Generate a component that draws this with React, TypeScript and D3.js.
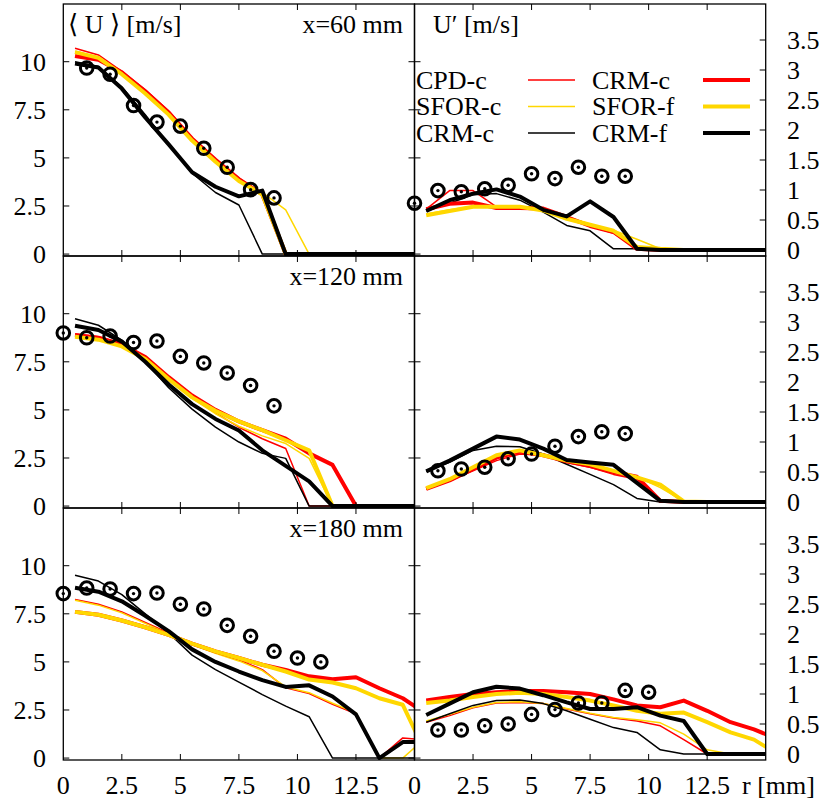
import React from "react";
import * as d3 from "d3";

// radial stations of the simulation profiles [mm]
const R = [0.5, 1.5, 2.5, 3.5, 4.5, 5.5, 6.5, 7.5, 8.5, 9.5, 10.5, 11.5, 12.5, 13.5, 14.5, 15.5];

const seriesNames = ["CPD-c", "SFOR-c", "CRM-c", "CRM-c", "SFOR-f", "CRM-f"];
const seriesColor = ["#ff0000", "#ffd700", "#000000", "#ff0000", "#ffd700", "#000000"];
const seriesWidth = [1.5, 1.5, 1.5, 4, 4, 4];

const rowTitles = ["x=60 mm", "x=120 mm", "x=180 mm"];
const xTicks = [0, 2.5, 5, 7.5, 10, 12.5];
const xTickLabels = ["0", "2.5", "5", "7.5", "10", "12.5"];
const meanTicks = [0, 2.5, 5, 7.5, 10];
const meanTickLabels = ["0", "2.5", "5", "7.5", "10"];
const rmsTicks = [0, 0.5, 1, 1.5, 2, 2.5, 3, 3.5];
const rmsTickLabels = ["0", "0.5", "1", "1.5", "2", "2.5", "3", "3.5"];

// ---- mean velocity <U>, x = 60 mm
const meanX60_CPDc = [10.7, 10.35, 9.5, 8.55, 7.45, 6.05, 4.95, 3.95, 3.15, 0, 0, 0, 0, 0, 0, 0];
const meanX60_SFORc = [10.55, 10.25, 9.4, 8.4, 7.3, 5.95, 4.85, 3.85, 3.2, 2.3, 0, 0, 0, 0, 0, 0];
const meanX60_CRMc = [10.0, 9.75, 8.7, 7.25, 5.7, 4.2, 3.2, 2.55, 0, 0, 0, 0, 0, 0, 0, 0];
const meanX60_CRMcThick = [10.3, 10.1, 9.45, 8.45, 7.35, 6.0, 4.9, 3.9, 3.1, 0, 0, 0, 0, 0, 0, 0];
const meanX60_SFORf = [10.5, 10.2, 9.35, 8.35, 7.25, 5.9, 4.8, 3.8, 3.1, 0, 0, 0, 0, 0, 0, 0];
const meanX60_CRMf = [9.9, 9.7, 8.6, 7.1, 5.7, 4.25, 3.5, 3.0, 3.3, 0, 0, 0, 0, 0, 0, 0];

// ---- mean velocity <U>, x = 120 mm
const meanX120_CPDc = [8.95, 8.8, 8.45, 7.75, 6.7, 5.7, 4.85, 4.1, 3.5, 2.99, 0, 0, 0, 0, 0, 0];
const meanX120_SFORc = [8.9, 8.75, 8.35, 7.7, 6.6, 5.6, 4.8, 4.15, 3.65, 3.25, 2.48, 0, 0, 0, 0, 0];
const meanX120_CRMc = [9.74, 9.4, 8.63, 7.5, 6.15, 5.04, 4.1, 3.33, 2.74, 2.48, 0, 0, 0, 0, 0, 0];
const meanX120_CRMcThick = [8.9, 8.75, 8.4, 7.75, 6.7, 5.75, 5.0, 4.4, 3.95, 3.5, 2.74, 2.14, 0, 0, 0, 0];
const meanX120_SFORf = [8.8, 8.65, 8.3, 7.65, 6.6, 5.65, 4.95, 4.4, 3.95, 3.42, 2.9, 0, 0, 0, 0, 0];
const meanX120_CRMf = [9.37, 9.15, 8.55, 7.5, 6.32, 5.3, 4.53, 3.93, 2.9, 2.09, 1.28, 0, 0, 0, 0, 0];

// ---- mean velocity <U>, x = 180 mm
const meanX180_CPDc = [8.25, 8.0, 7.6, 7.05, 6.5, 5.9, 5.5, 5.1, 4.6, 3.65, 3.35, 2.8, 2.3, 0, 1.05, 0.95];
const meanX180_SFORc = [8.2, 7.95, 7.55, 7.0, 6.45, 5.9, 5.45, 5.05, 4.55, 3.7, 3.4, 2.85, 2.35, 0, 0, 1.08];
const meanX180_CRMc = [9.5, 9.2, 8.5, 7.5, 6.5, 5.35, 4.6, 3.95, 3.3, 2.7, 2.15, 0, 0, 0, 0, 0];
const meanX180_CRMcThick = [7.6, 7.45, 7.15, 6.8, 6.4, 5.95, 5.55, 5.2, 4.85, 4.58, 4.25, 4.1, 4.2, 3.63, 3.11, 2.3];
const meanX180_SFORf = [7.6, 7.45, 7.15, 6.8, 6.4, 5.95, 5.55, 5.2, 4.85, 4.5, 4.08, 3.93, 3.63, 3.11, 2.77, 0.2];
const meanX180_CRMf = [8.85, 8.65, 8.15, 7.4, 6.6, 5.65, 5.0, 4.5, 4.05, 3.7, 3.78, 3.2, 2.27, 0, 0.83, 0.83];

// ---- rms velocity U', x = 60 mm
const rmsX60_CPDc = [0.68, 0.99, 0.99, 0.72, 0.7, 0.7, 0.55, 0.4, 0.28, 0.02, 0, 0, 0, 0, 0, 0];
const rmsX60_SFORc = [0.6, 0.67, 0.73, 0.73, 0.72, 0.68, 0.56, 0.43, 0.33, 0.18, 0.02, 0, 0, 0, 0, 0];
const rmsX60_CRMc = [0.65, 0.78, 0.92, 0.94, 0.83, 0.63, 0.41, 0.32, 0.02, 0.02, 0, 0, 0, 0, 0, 0];
const rmsX60_CRMcThick = [0.68, 0.77, 0.79, 0.7, 0.7, 0.69, 0.55, 0.4, 0.3, 0.02, 0, 0, 0, 0, 0, 0];
const rmsX60_SFORf = [0.58, 0.65, 0.72, 0.72, 0.72, 0.66, 0.52, 0.42, 0.32, 0.05, 0.02, 0, 0, 0, 0, 0];
const rmsX60_CRMf = [0.65, 0.83, 0.94, 1.01, 0.89, 0.67, 0.56, 0.81, 0.55, 0.02, 0, 0, 0, 0, 0, 0];

// ---- rms velocity U', x = 120 mm
const rmsX120_CPDc = [0.21, 0.35, 0.52, 0.69, 0.8, 0.78, 0.66, 0.58, 0.46, 0.38, 0.01, 0, 0, 0, 0, 0];
const rmsX120_SFORc = [0.23, 0.38, 0.57, 0.76, 0.84, 0.78, 0.68, 0.62, 0.52, 0.42, 0.24, 0.01, 0, 0, 0, 0];
const rmsX120_CRMc = [0.51, 0.66, 0.86, 0.93, 0.92, 0.8, 0.63, 0.46, 0.29, 0.06, 0, 0, 0, 0, 0, 0];
const rmsX120_CRMcThick = [0.22, 0.36, 0.55, 0.74, 0.84, 0.78, 0.68, 0.6, 0.5, 0.42, 0.02, 0, 0, 0, 0, 0];
const rmsX120_SFORf = [0.23, 0.38, 0.58, 0.78, 0.86, 0.78, 0.69, 0.63, 0.52, 0.41, 0.29, 0.01, 0, 0, 0, 0];
const rmsX120_CRMf = [0.51, 0.69, 0.89, 1.09, 1.04, 0.89, 0.7, 0.66, 0.62, 0.32, 0.02, 0, 0, 0, 0, 0];

// ---- rms velocity U', x = 180 mm
const rmsX180_CPDc = [0.53, 0.64, 0.77, 0.85, 0.86, 0.84, 0.75, 0.67, 0.6, 0.55, 0.47, 0.24, 0, 0, 0, 0];
const rmsX180_SFORc = [0.55, 0.66, 0.78, 0.86, 0.87, 0.84, 0.76, 0.68, 0.61, 0.57, 0.52, 0.33, 0.07, 0, 0, 0];
const rmsX180_CRMc = [0.53, 0.67, 0.81, 0.89, 0.9, 0.84, 0.72, 0.58, 0.44, 0.36, 0.07, 0, 0, 0, 0, 0];
const rmsX180_CRMcThick = [0.89, 0.95, 1.0, 1.03, 1.05, 1.05, 1.03, 1.0, 0.91, 0.81, 0.78, 0.89, 0.72, 0.53, 0.41, 0.25];
const rmsX180_SFORf = [0.85, 0.89, 0.95, 1.0, 1.02, 1.0, 0.95, 0.89, 0.81, 0.72, 0.67, 0.69, 0.53, 0.36, 0.24, 0.0];
const rmsX180_CRMf = [0.65, 0.84, 1.03, 1.12, 1.09, 0.98, 0.86, 0.75, 0.75, 0.78, 0.64, 0.55, 0, 0, 0, 0];

// ---- experiments (circles)
const exptMeanX60_r = [1, 2, 3, 4, 5, 6, 7, 8, 9];
const exptMeanX60_u = [9.67, 9.35, 7.72, 6.86, 6.65, 5.5, 4.51, 3.35, 2.92];
const exptRmsX60_r = [0, 1, 2, 3, 4, 5, 6, 7, 8, 9];
const exptRmsX60_u = [0.78, 0.99, 0.97, 1.02, 1.08, 1.27, 1.19, 1.38, 1.23, 1.23];
const exptMeanX120_r = [0, 1, 2, 3, 4, 5, 6, 7, 8, 9];
const exptMeanX120_u = [9.0, 8.75, 8.84, 8.5, 8.58, 7.78, 7.44, 6.92, 6.27, 5.21];
const exptRmsX120_r = [1, 2, 3, 4, 5, 6, 7, 8, 9];
const exptRmsX120_u = [0.52, 0.55, 0.58, 0.72, 0.8, 0.93, 1.09, 1.17, 1.14];
const exptMeanX180_r = [0, 1, 2, 3, 4, 5, 6, 7, 8, 9, 10, 11];
const exptMeanX180_u = [8.55, 8.84, 8.79, 8.55, 8.58, 8.0, 7.75, 6.9, 6.33, 5.55, 5.2, 5.0];
const exptRmsX180_r = [1, 2, 3, 4, 5, 6, 7, 8, 9, 10];
const exptRmsX180_u = [0.4, 0.4, 0.47, 0.5, 0.66, 0.74, 0.85, 0.85, 1.06, 1.03];

const meanRows = [
  [meanX60_CPDc, meanX60_SFORc, meanX60_CRMc, meanX60_CRMcThick, meanX60_SFORf, meanX60_CRMf],
  [meanX120_CPDc, meanX120_SFORc, meanX120_CRMc, meanX120_CRMcThick, meanX120_SFORf, meanX120_CRMf],
  [meanX180_CPDc, meanX180_SFORc, meanX180_CRMc, meanX180_CRMcThick, meanX180_SFORf, meanX180_CRMf],
];
const rmsRows = [
  [rmsX60_CPDc, rmsX60_SFORc, rmsX60_CRMc, rmsX60_CRMcThick, rmsX60_SFORf, rmsX60_CRMf],
  [rmsX120_CPDc, rmsX120_SFORc, rmsX120_CRMc, rmsX120_CRMcThick, rmsX120_SFORf, rmsX120_CRMf],
  [rmsX180_CPDc, rmsX180_SFORc, rmsX180_CRMc, rmsX180_CRMcThick, rmsX180_SFORf, rmsX180_CRMf],
];
const exptMeanRows = [
  [exptMeanX60_r, exptMeanX60_u],
  [exptMeanX120_r, exptMeanX120_u],
  [exptMeanX180_r, exptMeanX180_u],
];
const exptRmsRows = [
  [exptRmsX60_r, exptRmsX60_u],
  [exptRmsX120_r, exptRmsX120_u],
  [exptRmsX180_r, exptRmsX180_u],
];

// ---- layout
const W = 826;
const H = 803;
const XL0 = 63.3;
const XM = 414.5;
const XR1 = 765.7;
const ROW_TOP = [4, 256, 508];
const ROW_H = 252;
const FONT = "'Liberation Serif', 'Times New Roman', 'DejaVu Serif', serif";
const FS = 26;
const TICK = 6;

function Panel({ row, side }: { row: number; side: "L" | "R" }) {
  const top = ROW_TOP[row];
  const bottom = top + ROW_H;
  const x0 = side === "L" ? XL0 : XM;
  const x1 = side === "L" ? XM : XR1;
  const x = d3.scaleLinear().domain([0, 15]).range([x0, x1]);
  const yMean = d3.scaleLinear().domain([-0.1, 13]).range([bottom, top]);
  const yRms = d3.scaleLinear().domain([-0.1, 4.1]).range([bottom, top]);
  const y = side === "L" ? yMean : yRms;
  const series = side === "L" ? meanRows[row] : rmsRows[row];
  const expt = side === "L" ? exptMeanRows[row] : exptRmsRows[row];
  const line = d3
    .line<number>()
    .x((_, i) => x(R[i]))
    .y((v) => y(v));
  const clipId = `clip-${side}-${row}`;
  const xt = xTicks.filter((t) => t > 0);
  return (
    <g>
      <defs>
        <clipPath id={clipId}>
          <rect x={x0} y={top} width={x1 - x0} height={ROW_H} />
        </clipPath>
      </defs>
      <g clipPath={`url(#${clipId})`}>
        {series.map((vals, si) => (
          <path
            key={si}
            d={line(vals) || ""}
            fill="none"
            stroke={seriesColor[si]}
            strokeWidth={seriesWidth[si]}
            strokeLinejoin="round"
          />
        ))}
      </g>
      {expt[0].map((r, i) => (
        <g key={i}>
          <circle cx={x(r)} cy={y(expt[1][i])} r={6.3} fill="none" stroke="#000" strokeWidth={3} />
          <circle cx={x(r)} cy={y(expt[1][i])} r={1.7} fill="#000" />
        </g>
      ))}
      <rect x={x0} y={top} width={x1 - x0} height={ROW_H} fill="none" stroke="#000" strokeWidth={1.3} />
      {/* x ticks top & bottom */}
      {xt.map((t) => (
        <g key={t}>
          <line x1={x(t)} x2={x(t)} y1={bottom} y2={bottom - TICK} stroke="#000" strokeWidth={1} />
          <line x1={x(t)} x2={x(t)} y1={top} y2={top + TICK} stroke="#000" strokeWidth={1} />
        </g>
      ))}
      {/* mean-scale ticks on left edge (and right edge of left panel) */}
      {meanTicks.map((t) => (
        <g key={"m" + t}>
          <line x1={x0} x2={x0 + TICK} y1={yMean(t)} y2={yMean(t)} stroke="#000" strokeWidth={1} />
          {side === "L" && (
            <line x1={x1} x2={x1 - TICK} y1={yMean(t)} y2={yMean(t)} stroke="#000" strokeWidth={1} />
          )}
        </g>
      ))}
      {side === "R" &&
        rmsTicks.map((t) => (
          <line key={"r" + t} x1={x1} x2={x1 - TICK} y1={yRms(t)} y2={yRms(t)} stroke="#000" strokeWidth={1} />
        ))}
      {/* tick labels */}
      {side === "L" &&
        meanTicks.map((t, i) => (
          <text key={"ml" + t} x={46} y={yMean(t) + 8.8} textAnchor="end" fontSize={FS} fontFamily={FONT}>
            {meanTickLabels[i]}
          </text>
        ))}
      {side === "R" &&
        rmsTicks.map((t, i) => (
          <text key={"rl" + t} x={787} y={yRms(t) + 8.8} textAnchor="start" fontSize={FS} fontFamily={FONT}>
            {rmsTickLabels[i]}
          </text>
        ))}
      {row === 2 &&
        xTicks.map((t, i) => (
          <text key={"xl" + t} x={x(t)} y={794} textAnchor="middle" fontSize={FS} fontFamily={FONT}>
            {xTickLabels[i]}
          </text>
        ))}
      {row === 2 && side === "R" && (
        <text x={742} y={794} textAnchor="start" fontSize={FS} fontFamily={FONT}>
          r [mm]
        </text>
      )}
      {side === "L" && (
        <text x={403} y={top + 29} textAnchor="end" fontSize={FS} fontFamily={FONT}>
          {rowTitles[row]}
        </text>
      )}
      {row === 0 && side === "L" && (
        <text x={68} y={33} fontSize={FS} fontFamily={FONT}>
          ⟨ U ⟩ [m/s]
        </text>
      )}
      {row === 0 && side === "R" && (
        <text x={433} y={33} fontSize={FS} fontFamily={FONT}>
          U′ [m/s]
        </text>
      )}
    </g>
  );
}

function Legend() {
  const colText = [416, 592];
  const colLine = [
    [528, 575],
    [703, 750],
  ];
  const rowY = [80, 106.5, 133];
  return (
    <g>
      {seriesNames.map((name, i) => {
        const c = Math.floor(i / 3);
        const r = i % 3;
        return (
          <g key={i}>
            <text x={colText[c]} y={rowY[r] + 8.5} fontSize={FS} fontFamily={FONT}>
              {name}
            </text>
            <line
              x1={colLine[c][0]}
              x2={colLine[c][1]}
              y1={rowY[r]}
              y2={rowY[r]}
              stroke={seriesColor[i]}
              strokeWidth={seriesWidth[i]}
            />
          </g>
        );
      })}
    </g>
  );
}

export default function App() {
  return (
    <svg
      width={W}
      height={H}
      viewBox={`0 0 ${W} ${H}`}
      style={{ position: "absolute", left: 0, top: 0, background: "#fff" }}
    >
      <rect x={0} y={0} width={W} height={H} fill="#fff" />
      {[0, 1, 2].map((row) => (
        <g key={row}>
          <Panel row={row} side="L" />
          <Panel row={row} side="R" />
        </g>
      ))}
      <Legend />
    </svg>
  );
}
